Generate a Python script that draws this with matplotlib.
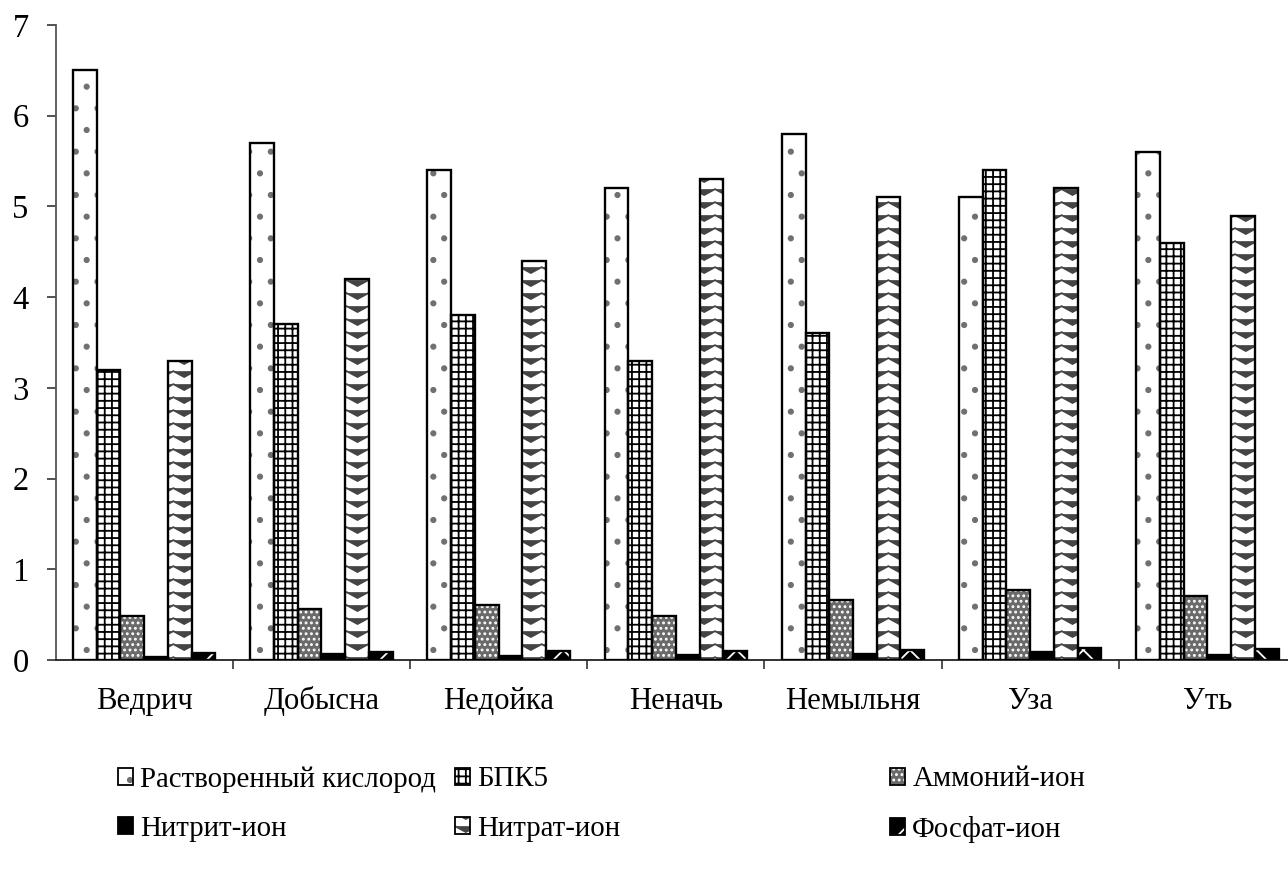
import numpy as np
import matplotlib
matplotlib.use("Agg")
import matplotlib.pyplot as plt
import matplotlib.hatch as mhatch
from matplotlib.patches import Patch
from matplotlib.path import Path

rivers = ["Ведрич", "Добысна", "Недойка", "Неначь", "Немыльня", "Уза", "Уть"]
oxygen = [6.5, 5.7, 5.4, 5.2, 5.8, 5.1, 5.6]
bod5 = [3.2, 3.7, 3.8, 3.3, 3.6, 5.4, 4.6]
ammonium = [0.48, 0.56, 0.61, 0.48, 0.66, 0.77, 0.71]
nitrite = [0.03, 0.07, 0.04, 0.06, 0.07, 0.09, 0.05]
nitrate = [3.3, 4.2, 4.4, 5.3, 5.1, 5.2, 4.9]
phosphate = [0.08, 0.09, 0.10, 0.10, 0.11, 0.13, 0.12]
y_ticks = [0, 1, 2, 3, 4, 5, 6, 7]


class Chevrons(mhatch.HatchPatternBase):
    """Zigzag rows, used in place of the star hatch ('*')."""

    def __init__(self, hatch, density):
        n = hatch.count('*')
        self.num_rows = n * 5
        self.num_cols = n * 3
        self.num_vertices = (self.num_rows + 2) * (2 * self.num_cols + 1) if n else 0

    def set_vertices_and_codes(self, vertices, codes):
        npts = 2 * self.num_cols + 1
        step = 1.0 / self.num_rows
        xs = np.linspace(0, 1, npts)
        dip = np.where(np.arange(npts) % 2 == 0, 0.45 * step, 0.0)
        for i in range(self.num_rows + 2):
            y0 = (i - 1) * step
            sl = slice(i * npts, (i + 1) * npts)
            vertices[sl, 0] = xs
            vertices[sl, 1] = y0 + dip
            codes[sl] = Path.LINETO
            codes[i * npts] = Path.MOVETO


mhatch._hatch_types = [t for t in mhatch._hatch_types if t is not mhatch.Stars] + [Chevrons]

plt.rcParams['font.family'] = ['Liberation Serif', 'DejaVu Serif']
plt.rcParams['hatch.linewidth'] = 1.0

DPI = 130
fig = plt.figure(figsize=(1288 / DPI, 872 / DPI), dpi=DPI)
ax = fig.add_axes([0.0432, 0.2431, 0.963, 0.7282])

n_series = 6
width = 0.134
x = np.arange(len(rivers))
offsets = (np.arange(n_series) - (n_series - 1) / 2) * width

# (values, face, hatch, hatch colour)
series = [
    (oxygen, "white", ".", "#707070"),
    (bod5, "white", "+++", "black"),
    (ammonium, "#6a6a6a", "....", "white"),
    (nitrite, "black", None, "black"),
    (nitrate, "white", "**", "#444444"),
    (phosphate, "black", "x", "white"),
]
names = ["Растворенный кислород", "БПК5", "Аммоний-ион",
         "Нитрит-ион", "Нитрат-ион", "Фосфат-ион"]

handles = []
for (vals, face, hatch, hcol), off in zip(series, offsets):
    ax.bar(x + off, vals, width, color=face, hatch=hatch, edgecolor=hcol,
           linewidth=0, zorder=2)
    ax.bar(x + off, vals, width, fill=False, edgecolor="black",
           linewidth=1.3, zorder=3)
    handles.append((Patch(facecolor=face, hatch=hatch, edgecolor=hcol, linewidth=0),
                    Patch(fill=False, edgecolor="black", linewidth=1.0)))

ax.set_xlim(-0.5, len(rivers) - 0.5)
ax.set_ylim(0, 7)
ax.set_yticks(y_ticks)
ax.set_xticks(x)
ax.set_xticklabels(rivers)
for lbl in ax.get_xticklabels():
    lbl.set_verticalalignment("baseline")
ax.set_xticks(np.arange(len(rivers)) + 0.5, minor=True)
ax.tick_params(axis="x", which="major", length=0, pad=27, labelsize=17)
ax.tick_params(axis="x", which="minor", length=5, width=1, color="#444444", direction="out")
ax.tick_params(axis="y", length=5, width=1, color="#444444", pad=10, labelsize=18)
for side in ("top", "right"):
    ax.spines[side].set_visible(False)
ax.spines["left"].set_color("#555555")
ax.spines["bottom"].set_color("#222222")
ax.spines["left"].set_linewidth(1)
ax.spines["bottom"].set_linewidth(1)

# legend laid out in three columns of two rows
col_x = [118 / 1288, 455 / 1288, 890 / 1288]
for c in range(3):
    idx = [c, c + 3]
    fig.legend([handles[i] for i in idx], [names[i] for i in idx],
               loc="upper left", bbox_to_anchor=(col_x[c], 0.121),
               frameon=False, fontsize=16, handlelength=0.52, handleheight=0.52,
               handletextpad=0.25, labelspacing=0.8, borderpad=0, borderaxespad=0)

fig.savefig("out.png", dpi=DPI)
